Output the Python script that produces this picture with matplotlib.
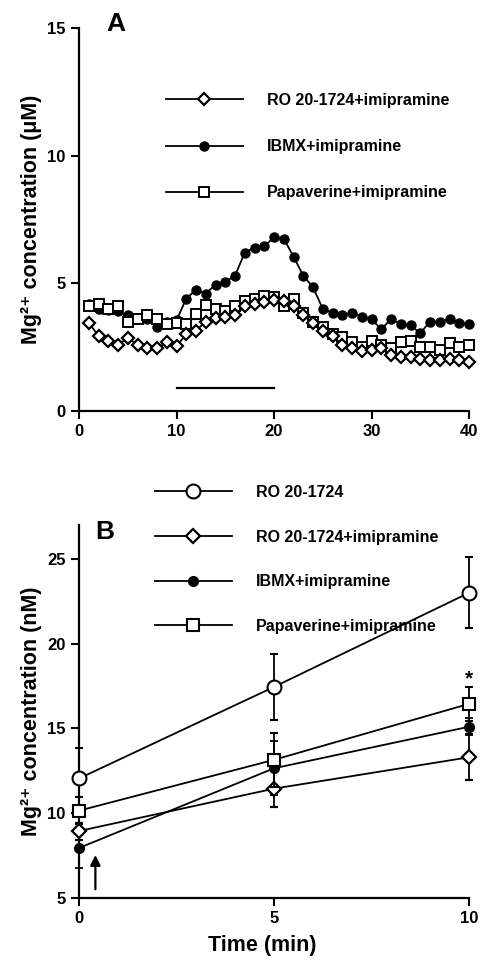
import numpy as np
import matplotlib
matplotlib.use("Agg")
import matplotlib.pyplot as plt

plt.rcParams['font.family'] = ['Liberation Sans', 'DejaVu Sans']
plt.rcParams['font.weight'] = 'bold'
plt.rcParams['axes.labelweight'] = 'bold'

# panel A: time course (min 1..40)
t_a = np.arange(1, 41)
ro_imi_a = [3.45, 2.95, 2.75, 2.6, 2.85, 2.6, 2.45, 2.45, 2.7, 2.55,
            3.0, 3.15, 3.5, 3.65, 3.7, 3.75, 4.1, 4.2, 4.25, 4.35,
            4.3, 4.1, 3.75, 3.45, 3.15, 2.95, 2.6, 2.45, 2.35, 2.4,
            2.45, 2.2, 2.1, 2.1, 2.05, 2.0, 2.0, 2.05, 2.0, 1.9]
ibmx_imi_a = [4.2, 4.0, 3.95, 3.9, 3.75, 3.6, 3.6, 3.3, 3.5, 3.55,
              4.4, 4.75, 4.6, 4.95, 5.05, 5.3, 6.2, 6.4, 6.45, 6.8,
              6.75, 6.05, 5.3, 4.85, 4.0, 3.85, 3.75, 3.85, 3.7, 3.6,
              3.2, 3.6, 3.4, 3.35, 3.05, 3.5, 3.5, 3.6, 3.45, 3.4]
pap_imi_a = [4.1, 4.2, 4.0, 4.1, 3.5, 3.6, 3.75, 3.6, 3.4, 3.45,
             3.4, 3.8, 4.15, 4.0, 3.9, 4.1, 4.3, 4.4, 4.5, 4.45,
             4.1, 4.4, 3.85, 3.5, 3.3, 3.0, 2.9, 2.7, 2.5, 2.75,
             2.6, 2.45, 2.7, 2.75, 2.5, 2.5, 2.4, 2.65, 2.5, 2.6]
bar_span = [10, 20]
bar_level = 0.9

# panel B: 0, 5, 10 min
t_b = [0, 5, 10]
ro_b = [12.05, 17.45, 23.0]
ro_b_err = [1.8, 1.95, 2.1]
ro_imi_b = [8.95, 11.45, 13.3]
ro_imi_b_err = [0.5, 1.1, 1.35]
ibmx_imi_b = [7.95, 12.65, 15.1]
ibmx_imi_b_err = [1.2, 1.6, 0.5]
pap_imi_b = [10.15, 13.15, 16.45]
pap_imi_b_err = [0.8, 1.6, 1.0]
star_b = (10, 17.9)

fig = plt.figure(figsize=(4.82, 9.68), dpi=100)

lw = 1.3
fs_tick = 12

def style(ax):
    for s in ['top', 'right']:
        ax.spines[s].set_visible(False)
    for s in ['left', 'bottom']:
        ax.spines[s].set_linewidth(1.6)
    ax.tick_params(direction='out', length=6, width=1.5, labelsize=fs_tick)

# ---- A ----
axa = fig.add_axes([79/482, 1-411/968, 390/482, 383/968])
l_ibmx, = axa.plot(t_a, ibmx_imi_a, 'o-', color='black', mfc='black', ms=6.5, lw=lw,
                   label='IBMX+imipramine', zorder=3, clip_on=False)
l_pap, = axa.plot(t_a, pap_imi_a, 's-', color='black', mfc='white', ms=7.5, mew=1.4, lw=lw,
                  label='Papaverine+imipramine', zorder=4, clip_on=False)
l_ro, = axa.plot(t_a, ro_imi_a, 'D-', color='black', mfc='white', ms=6.2, mew=1.6, lw=lw,
                 label='RO 20-1724+imipramine', zorder=5, clip_on=False)
axa.plot(bar_span, [bar_level, bar_level], color='black', lw=1.6)
axa.set_xlim(0, 40)
axa.set_ylim(0, 15)
axa.set_xticks([0, 10, 20, 30, 40])
axa.set_yticks([0, 5, 10, 15])
style(axa)
axa.set_ylabel('Mg²⁺ concentration (\u03bcM)', fontsize=15.5, labelpad=4)
axa.text(0.095, 1.01, 'A', transform=axa.transAxes, fontsize=19, va='center', ha='center')
axa.legend([l_ro, l_ibmx, l_pap], [l_ro.get_label(), l_ibmx.get_label(), l_pap.get_label()],
           loc='upper left', bbox_to_anchor=(166/482, 1-93/968), bbox_transform=fig.transFigure,
           frameon=False, handlelength=4.8, handletextpad=1.5, labelspacing=1.95,
           borderpad=0, borderaxespad=0, numpoints=1, fontsize=11.5)

# ---- B ----
axb = fig.add_axes([79/482, 1-898/968, 390/482, 373/968])
eb_kw = dict(color='black', lw=lw, capsize=3, elinewidth=1.3, capthick=1.3, clip_on=False)
c1 = axb.errorbar(t_b, ro_b, yerr=ro_b_err, fmt='o-', mfc='white', ms=10, mew=1.5,
                  label='RO 20-1724', zorder=3, **eb_kw)
c2 = axb.errorbar(t_b, ro_imi_b, yerr=ro_imi_b_err, fmt='D-', mfc='white', ms=7.5, mew=1.6,
                  label='RO 20-1724+imipramine', zorder=4, **eb_kw)
c3 = axb.errorbar(t_b, ibmx_imi_b, yerr=ibmx_imi_b_err, fmt='o-', mfc='black', ms=7,
                  label='IBMX+imipramine', zorder=4, **eb_kw)
c4 = axb.errorbar(t_b, pap_imi_b, yerr=pap_imi_b_err, fmt='s-', mfc='white', ms=9, mew=1.5,
                  label='Papaverine+imipramine', zorder=5, **eb_kw)
axb.text(star_b[0], star_b[1], '*', fontsize=15, ha='center', va='center')
axb.annotate('', xy=(0.42, 7.7), xytext=(0.42, 5.35),
             arrowprops=dict(arrowstyle='-|>', color='black', lw=1.6, mutation_scale=15))
axb.set_xlim(0, 10)
axb.set_ylim(5, 27)
axb.set_xticks([0, 5, 10])
axb.set_yticks([5, 10, 15, 20, 25])
style(axb)
axb.set_ylabel('Mg²⁺ concentration (nM)', fontsize=15.5, labelpad=4)
axb.set_xlabel('Time (min)', fontsize=15.5, labelpad=8)
axb.xaxis.set_label_coords(0.47, -0.1)
axb.text(0.065, 0.98, 'B', transform=axb.transAxes, fontsize=19, va='center', ha='center')
conts = [c1, c2, c3, c4]
axb.legend([c[0] for c in conts], [c.get_label() for c in conts],
           loc='upper left', bbox_to_anchor=(155/482, 1-485/968), bbox_transform=fig.transFigure,
           frameon=False, handlelength=4.8, handletextpad=1.5, labelspacing=1.85,
           borderpad=0, borderaxespad=0, numpoints=1, fontsize=11.5)

fig.savefig('out.png', dpi=100)
